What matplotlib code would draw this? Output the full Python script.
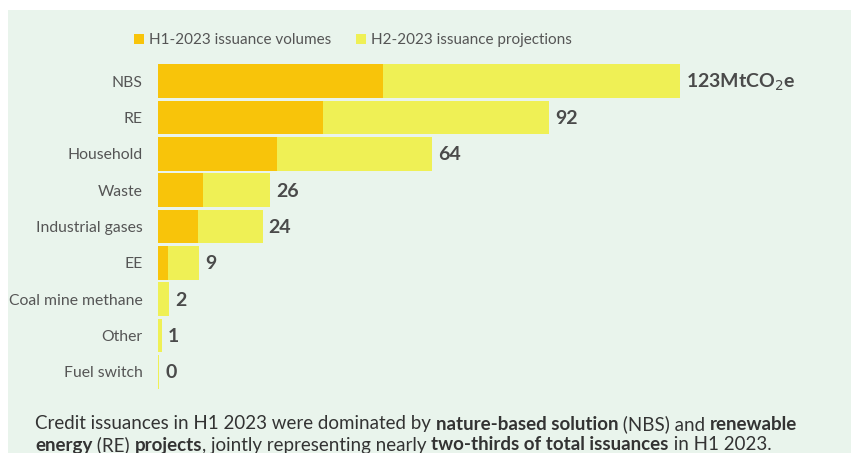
import matplotlib
matplotlib.use('Agg')
import matplotlib.pyplot as plt
from matplotlib.patches import Rectangle

plt.rcParams['font.family'] = ['Lato', 'DejaVu Sans']

# data (MtCO2e)
categories = ['NBS', 'RE', 'Household', 'Waste', 'Industrial gases', 'EE',
              'Coal mine methane', 'Other', 'Fuel switch']
h1_volumes = [53, 39, 28, 10.6, 9.4, 2.4, 0, 0, 0]
h2_projections = [70, 53.2, 36.6, 15.8, 15.3, 7.3, 2.6, 0.9, 0.3]
total_labels = ['123MtCO$_2$e', '92', '64', '26', '24', '9', '2', '1', '0']

H1_COLOR = '#F8C40A'
H2_COLOR = '#EFF055'
BG = '#E9F4EC'
TEXT = '#555555'

W, H = 851, 453
fig = plt.figure(figsize=(W / 100, H / 100), dpi=100)
fig.patch.set_facecolor('white')
fig.patches.append(Rectangle((8 / W, 0), 1, 1 - 10 / H, transform=fig.transFigure,
                             facecolor=BG, edgecolor='none', zorder=-10))

ax = fig.add_axes([158 / W, 1 - 390 / H, 682 / W, (390 - 63) / H])
ax.set_facecolor('none')

y = range(len(categories))
b1 = ax.barh(y, h1_volumes, height=0.93, color=H1_COLOR, label='H1-2023 issuance volumes')
b2 = ax.barh(y, h2_projections, left=h1_volumes, height=0.93, color=H2_COLOR,
             label='H2-2023 issuance projections')

for i, lab in enumerate(total_labels):
    total = h1_volumes[i] + h2_projections[i]
    ax.annotate(lab, (total, i), xytext=(6, -1), textcoords='offset pixels',
                ha='left', va='center', fontsize=14, fontweight='bold', color='#4a4a4a')

ax.set_xlim(0, 682 / 4.24)
ax.set_ylim(8.5, -0.5)
ax.set_yticks(list(y))
ax.set_yticklabels(categories, fontsize=11.3, color=TEXT)
ax.tick_params(axis='y', length=0, pad=11)
ax.set_xticks([])
for s in ax.spines.values():
    s.set_visible(False)

fig.legend(handles=[b1, b2], loc='center left', bbox_to_anchor=(126 / W, 1 - 40 / H),
           ncol=2, frameon=False, fontsize=11, handlelength=0.65, handleheight=0.65,
           handletextpad=0.35, columnspacing=1.6, borderpad=0, labelcolor=TEXT)

# caption with mixed bold runs
lines = [
    [('Credit issuances in H1 2023 were dominated by ', 'normal'),
     ('nature-based solution', 'bold'), (' (NBS) and ', 'normal'), ('renewable', 'bold')],
    [('energy', 'bold'), (' (RE) ', 'normal'), ('projects', 'bold'),
     (', jointly representing nearly ', 'normal'),
     ('two-thirds of total issuances', 'bold'), (' in H1 2023.', 'normal')],
]
renderer = fig.canvas.get_renderer()
for row, parts in enumerate(lines):
    x = 35
    ypix = 424 + row * 21
    for txt, weight in parts:
        t = fig.text(x / W, 1 - ypix / H, txt, fontsize=13.5, fontweight=weight,
                     color='#333333', va='center', ha='left')
        x += t.get_window_extent(renderer).width

fig.savefig('out.png', dpi=100, facecolor=fig.get_facecolor())
